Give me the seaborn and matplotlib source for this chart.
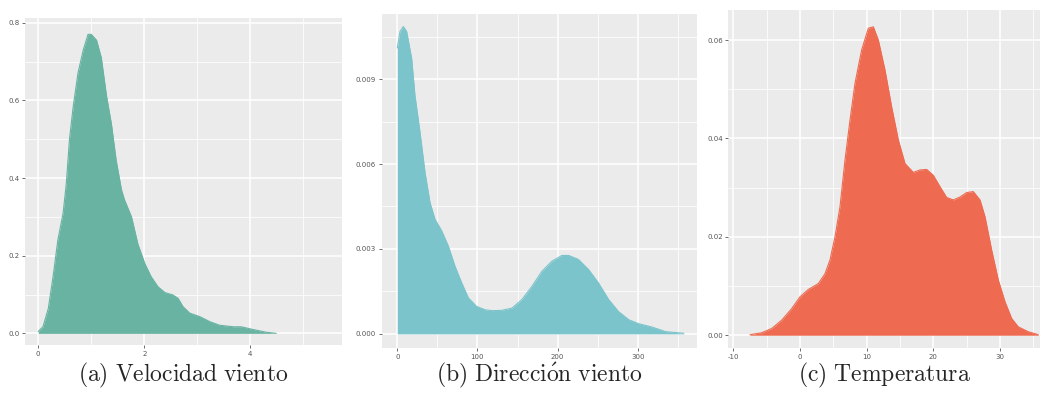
import numpy as np
import pandas as pd
import matplotlib
matplotlib.use("Agg")
import matplotlib.pyplot as plt
import seaborn as sns
from matplotlib.ticker import MultipleLocator, FuncFormatter

# ---- data ----
vel_x = [0.0, 0.09, 0.19, 0.28, 0.37, 0.47, 0.53, 0.59, 0.66, 0.75, 0.85, 0.94, 1.0, 1.10,
         1.19, 1.29, 1.38, 1.47, 1.57, 1.63, 1.76, 1.88, 2.01, 2.13, 2.26, 2.39, 2.54, 2.64,
         2.73, 2.86, 3.05, 3.24, 3.42, 3.68, 3.83, 4.05, 4.30, 4.49]
vel_y = [0.005, 0.017, 0.064, 0.146, 0.24, 0.31, 0.386, 0.50, 0.584, 0.67, 0.73, 0.77, 0.77,
         0.755, 0.71, 0.61, 0.54, 0.446, 0.37, 0.343, 0.30, 0.23, 0.18, 0.146, 0.12, 0.105,
         0.099, 0.09, 0.069, 0.052, 0.043, 0.03, 0.021, 0.017, 0.017, 0.01, 0.003, 0.0]

dir_x = [0, 3.3, 7.5, 11.7, 17.9, 22, 28.3, 34.6, 40.8, 47, 55.4, 63.7, 72, 80.4, 88.7, 99,
         109.6, 118, 130, 143, 155.4, 168, 180.4, 193, 205.4, 213.8, 226, 238.8, 251, 263.8,
         276, 288.8, 301, 318, 334.6, 357.5]
dir_y = [0.0101, 0.01068, 0.01086, 0.01068, 0.00973, 0.00843, 0.00713, 0.0057, 0.00464,
         0.00405, 0.00364, 0.0031, 0.00239, 0.0018, 0.00127, 0.00097, 0.00085, 0.00082,
         0.00083, 0.00091, 0.00121, 0.00168, 0.00221, 0.00257, 0.00277, 0.00277, 0.00263,
         0.00227, 0.0018, 0.00121, 0.00079, 0.0005, 0.00036, 0.00024, 0.00008, 0.00002]

tem_x = [-7.5, -5.75, -4.25, -2.75, -1.25, 0, 1.25, 2.75, 3.75, 4.5, 5.25, 6.0, 6.75, 7.5,
         8.25, 9.25, 10.25, 11.0, 11.75, 12.75, 13.75, 14.75, 15.75, 17.0, 18.0, 19.0, 20.0,
         21.0, 22.0, 23.0, 24.0, 25.0, 26.0, 27.0, 27.75, 28.75, 29.75, 30.75, 31.75, 32.75,
         34.25, 35.75]
tem_y = [0.0001, 0.0005, 0.00136, 0.00305, 0.0054, 0.0078, 0.0093, 0.0105, 0.0125, 0.0153,
         0.020, 0.0261, 0.0356, 0.0437, 0.0512, 0.058, 0.0624, 0.0627, 0.06, 0.0539, 0.0464,
         0.0397, 0.0349, 0.0331, 0.0336, 0.0337, 0.0325, 0.0302, 0.028, 0.0275, 0.0281,
         0.029, 0.0292, 0.0275, 0.0241, 0.0173, 0.0112, 0.0068, 0.0034, 0.0017, 0.0007,
         0.0001]

captions = [r"$\mathrm{(a)\ Velocidad\ viento}$",
            r"$\mathrm{(b)\ Direcci\acute{o}n\ viento}$",
            r"$\mathrm{(c)\ Temperatura}$"]
colors = ["#69B3A2", "#7CC4CB", "#EE6A50"]

sns.set_theme(style="darkgrid")
plt.rcParams['font.family'] = ['DejaVu Sans']
plt.rcParams['mathtext.fontset'] = 'cm'

fig = plt.figure(figsize=(10.40, 3.99), dpi=100)

panels = [
    dict(x=vel_x, y=vel_y, rect=[0.024, 0.1353, 0.3048, 0.8195],
         xlim=(-0.25, 5.73), ylim=(-0.03, 0.812), xmaj=2, xmin=1, ymaj=0.2, ymin=0.1,
         fmt="{:.0f}", yfmt="{:.1f}"),
    dict(x=dir_x, y=dir_y, rect=[0.367, 0.1278, 0.3032, 0.837],
         xlim=(-19.5, 374), ylim=(-0.0005, 0.0113), xmaj=100, xmin=50, ymaj=0.003, ymin=0.0015,
         fmt="{:.0f}", yfmt="{:.3f}"),
    dict(x=tem_x, y=tem_y, rect=[0.7003, 0.1278, 0.2997, 0.847],
         xlim=(-10.75, 36), ylim=(-0.0026, 0.0661), xmaj=10, xmin=5, ymaj=0.02, ymin=0.01,
         fmt="{:.0f}", yfmt="{:.2f}"),
]

for p, col, cap in zip(panels, colors, captions):
    ax = fig.add_axes(p["rect"])
    ax.set_facecolor("#EBEBEB")
    df = pd.DataFrame({"x": p["x"], "y": p["y"]})
    sns.lineplot(data=df, x="x", y="y", ax=ax, color=col, linewidth=0.8, sort=False)
    ax.fill_between(df["x"], 0, df["y"], color=col, linewidth=0)
    ax.set_xlim(*p["xlim"])
    ax.set_ylim(*p["ylim"])
    ax.xaxis.set_major_locator(MultipleLocator(p["xmaj"]))
    ax.xaxis.set_minor_locator(MultipleLocator(p["xmin"]))
    ax.yaxis.set_major_locator(MultipleLocator(p["ymaj"]))
    ax.yaxis.set_minor_locator(MultipleLocator(p["ymin"]))
    ax.xaxis.set_major_formatter(FuncFormatter(lambda v, _, f=p["fmt"]: f.format(v)))
    ax.yaxis.set_major_formatter(FuncFormatter(lambda v, _, f=p["yfmt"]: f.format(v)))
    ax.grid(which="major", color="white", linewidth=1.1)
    ax.grid(which="minor", color="white", linewidth=0.55)
    ax.set_axisbelow(True)
    for s in ax.spines.values():
        s.set_visible(False)
    ax.tick_params(which="major", length=2, width=0.6, color="#555555", labelsize=5,
                   labelcolor="#555555", pad=2, bottom=True, left=True)
    ax.tick_params(which="minor", length=0)
    ax.set_xlabel("")
    ax.set_ylabel("")
    bb = p["rect"]
    fig.text(bb[0] + bb[2] / 2, 0.06, cap, ha="center", va="center", fontsize=17)

fig.savefig("out.png", dpi=100)
